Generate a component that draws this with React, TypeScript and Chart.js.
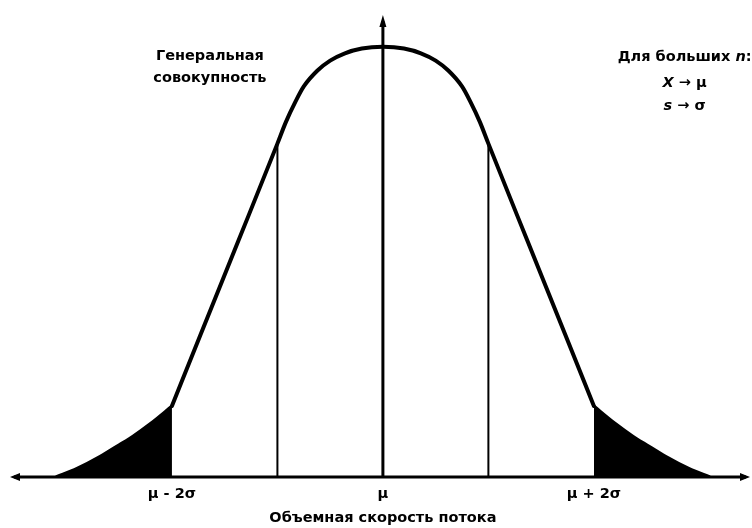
import React, { useEffect, useRef } from 'react';
import { Chart, registerables } from 'chart.js';

Chart.register(...registerables);

// Curve shape: x in sigma units from the mean, y relative to the peak height
const curveX = [-3.1, -2.9, -2.68, -2.5, -2.37, -2.2, -2.0, -1.73, -1.37, -1.0, -0.92, -0.83, -0.75, -0.62, -0.5, -0.36, -0.2, 0, 0.2, 0.36, 0.5, 0.62, 0.75, 0.83, 0.92, 1.0, 1.37, 1.73, 2.0, 2.2, 2.37, 2.5, 2.68, 2.9, 3.1];
const curveY = [0, 0.02, 0.048, 0.075, 0.095, 0.125, 0.165, 0.33, 0.549, 0.775, 0.825, 0.872, 0.908, 0.945, 0.968, 0.985, 0.996, 1.0, 0.996, 0.985, 0.968, 0.945, 0.908, 0.872, 0.825, 0.775, 0.549, 0.33, 0.165, 0.125, 0.095, 0.075, 0.048, 0.02, 0];

const sigmaLines = [-1, 1];
const tailLimit = 2;
const tickValues = [-2, 0, 2];
const tickLabels = ['μ - 2σ', 'μ', 'μ + 2σ'];
const axisTitle = 'Объемная скорость потока';
const leftNote = ['Генеральная', 'совокупность'];
const rightNote = [
  [{ t: 'Для больших ' }, { t: 'n', i: true }, { t: ':' }],
  [{ t: 'X', i: true }, { t: ' → μ' }],
  [{ t: 's', i: true }, { t: ' → σ' }],
];

const X_MIN = -3.535;
const X_MAX = 3.48;
const Y_MAX = 1.074;
const FONT = '"DejaVu Sans", "Liberation Sans", sans-serif';
const FS = 14.5;

type Seg = { t: string; i?: boolean };

function drawSegs(ctx: CanvasRenderingContext2D, segs: Seg[], cx: number, y: number, size: number) {
  const fontOf = (s: Seg) => `${s.i ? 'italic ' : ''}bold ${size}px ${FONT}`;
  let total = 0;
  const widths = segs.map((s) => {
    ctx.font = fontOf(s);
    const w = ctx.measureText(s.t).width;
    total += w;
    return w;
  });
  let x = cx - total / 2;
  segs.forEach((s, k) => {
    ctx.font = fontOf(s);
    ctx.textAlign = 'left';
    ctx.fillText(s.t, x, y);
    x += widths[k];
  });
}

const decorPlugin = {
  id: 'decor',
  afterDatasetsDraw(chart: any) {
    const { ctx, chartArea } = chart;
    const xs = chart.scales.x;
    const ys = chart.scales.y;
    const y0 = ys.getPixelForValue(0);
    const xc = xs.getPixelForValue(0);
    ctx.save();
    ctx.fillStyle = '#000';
    ctx.strokeStyle = '#000';

    // horizontal axis with arrows
    ctx.lineWidth = 3;
    ctx.beginPath();
    ctx.moveTo(chartArea.left + 4, y0);
    ctx.lineTo(chartArea.right - 4, y0);
    ctx.stroke();
    ctx.beginPath();
    ctx.moveTo(chartArea.left, y0);
    ctx.lineTo(chartArea.left + 10, y0 - 4);
    ctx.lineTo(chartArea.left + 10, y0 + 4);
    ctx.closePath();
    ctx.fill();
    ctx.beginPath();
    ctx.moveTo(chartArea.right, y0);
    ctx.lineTo(chartArea.right - 10, y0 - 4);
    ctx.lineTo(chartArea.right - 10, y0 + 4);
    ctx.closePath();
    ctx.fill();

    // vertical axis at the mean with arrow
    const yTop = ys.getPixelForValue(Y_MAX);
    ctx.lineWidth = 3;
    ctx.beginPath();
    ctx.moveTo(xc, y0);
    ctx.lineTo(xc, yTop + 6);
    ctx.stroke();
    ctx.beginPath();
    ctx.moveTo(xc, yTop);
    ctx.lineTo(xc - 3.5, yTop + 12);
    ctx.lineTo(xc + 3.5, yTop + 12);
    ctx.closePath();
    ctx.fill();

    // tick labels and axis title
    ctx.textBaseline = 'alphabetic';
    ctx.textAlign = 'center';
    ctx.font = `bold ${FS}px ${FONT}`;
    tickValues.forEach((v, k) => {
      ctx.fillText(tickLabels[k], xs.getPixelForValue(v), y0 + 21);
    });
    ctx.fillText(axisTitle, xc, y0 + 45);

    // notes
    leftNote.forEach((line, k) => {
      ctx.fillText(line, xs.getPixelForValue(-1.64), 60 + k * 22);
    });
    const rb = [61, 87, 110];
    rightNote.forEach((segs, k) => drawSegs(ctx, segs as Seg[], xs.getPixelForValue(2.86), rb[k], FS));
    ctx.restore();
  },
};

export default function App() {
  const ref = useRef<HTMLCanvasElement | null>(null);
  useEffect(() => {
    if (!ref.current) return;
    const curve = curveX.map((x, k) => ({ x, y: curveY[k] }));
    const body = curve.filter((p) => Math.abs(p.x) <= tailLimit);
    const leftTail = curve.filter((p) => p.x <= -tailLimit);
    const rightTail = curve.filter((p) => p.x >= tailLimit);
    const sigmaSets = sigmaLines.map((s) => ({
      data: [
        { x: s, y: 0 },
        { x: s, y: curveY[curveX.indexOf(s)] },
      ],
      borderColor: '#000',
      borderWidth: 2,
      pointRadius: 0,
      fill: false,
    }));
    const tailSet = (data: any[]) => ({
      data,
      borderColor: '#000',
      borderWidth: 3,
      backgroundColor: '#000',
      pointRadius: 0,
      cubicInterpolationMode: 'monotone',
      fill: 'origin',
    });
    const chart = new Chart(ref.current, {
      type: 'line',
      data: {
        datasets: [
          {
            data: body,
            borderColor: '#000',
            borderWidth: 4,
            pointRadius: 0,
            cubicInterpolationMode: 'monotone',
            fill: false,
            borderCapStyle: 'round',
          },
          ...sigmaSets,
          tailSet(leftTail),
          tailSet(rightTail),
        ] as any,
      },
      options: {
        animation: false,
        responsive: false,
        layout: { padding: { left: 10, right: 2, top: 15, bottom: 51 } },
        plugins: { legend: { display: false }, tooltip: { enabled: false } },
        scales: {
          x: { type: 'linear', min: X_MIN, max: X_MAX, display: false },
          y: { type: 'linear', min: 0, max: Y_MAX, display: false },
        },
      },
      plugins: [decorPlugin],
    });
    return () => chart.destroy();
  }, []);
  return (
    <div style={{ position: 'fixed', left: 0, top: 0, width: 752, height: 528, background: '#fff' }}>
      <canvas ref={ref} width={752} height={528} />
    </div>
  );
}
